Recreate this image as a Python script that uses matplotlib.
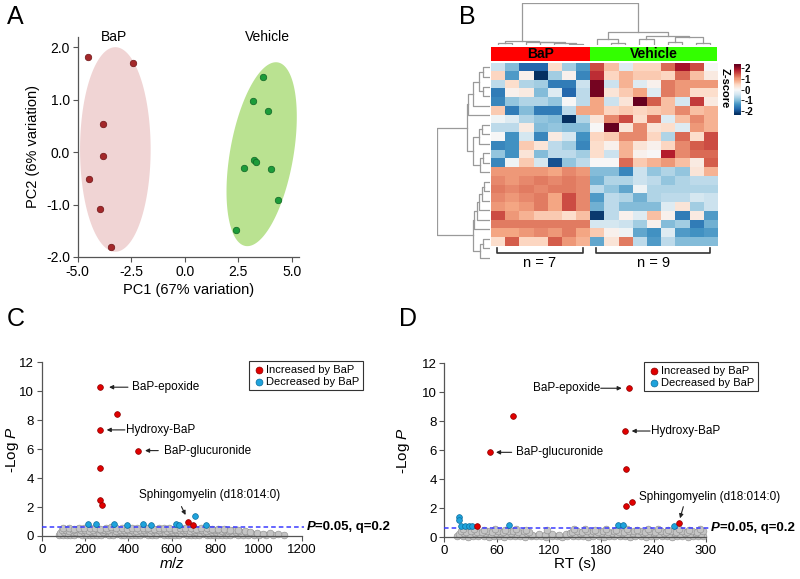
import numpy as np
import matplotlib
matplotlib.use('Agg')
import matplotlib.pyplot as plt
from matplotlib.patches import Polygon

plt.rcParams['font.family'] = ['Liberation Sans', 'DejaVu Sans']
plt.rcParams['axes.unicode_minus'] = False
plt.rcParams['mathtext.fontset'] = 'custom'
plt.rcParams['mathtext.rm'] = 'Liberation Sans'
plt.rcParams['mathtext.it'] = 'Liberation Sans:italic'
plt.rcParams['mathtext.bf'] = 'Liberation Sans:bold'

# %% data
# A: PCA scores
bap_pc1 = [-4.50, -2.40, -3.80, -3.80, -4.45, -3.94, -3.46]
bap_pc2 = [1.81, 1.70, 0.54, -0.07, -0.51, -1.08, -1.80]
veh_pc1 = [3.68, 3.21, 3.91, 3.24, 3.33, 2.77, 4.02, 4.35, 2.38]
veh_pc2 = [1.44, 0.97, 0.79, -0.16, -0.19, -0.30, -0.33, -0.92, -1.49]
# ellipse: centre, half-axis vector a, half-axis vector b (data units)
bap_ell = [(-3.24, 0.05), (0.0, 1.95), (1.65, 0.0)]
veh_ell = [(3.60, -0.04), (0.757, 1.75), (1.458, -0.105)]
group_label_x = [-3.29, 3.88]

# B: heatmap z-scores (21 features x 16 samples, 7 BaP then 9 vehicle)
groups = ['BaP', 'Vehicle']
group_n = [7, 9]
zscore = [
    [-0.5, -1.0, -1.8, -1.8, 0.4, -0.8, -1.3, 1.5, 0.7, -0.3, 0.5, 0.5, 1.3, 1.9, 1.5, 0.0],
    [0.5, -1.3, 0.1, -2.5, -0.8, 0.1, -1.5, 1.7, 0.5, 0.8, 0.6, 0.6, 0.5, 1.3, 0.7, 0.2],
    [-0.6, 0.4, -0.7, -0.8, -1.6, -1.6, -0.5, 2.2, -0.5, 0.8, -0.3, 0.1, 1.2, 1.0, 1.0, 1.0],
    [-1.6, 0.1, 0.2, -1.0, -0.3, -1.8, -0.6, 2.2, 0.3, 0.6, 0.9, -0.3, 1.2, 1.0, 0.4, 0.4],
    [-1.5, -0.9, -0.7, -0.7, -0.9, 0.0, -0.6, 0.9, -0.5, 0.3, 2.5, 1.4, 0.7, -0.4, 1.6, 0.2],
    [0.6, -1.6, -1.0, -1.6, -1.6, -0.6, 0.9, 0.9, 0.5, 0.6, 0.5, 0.6, 0.7, 1.1, 0.7, 0.8],
    [-0.1, -0.3, -0.7, -0.9, -1.0, -2.5, -0.7, 0.3, 1.1, 1.5, 0.4, 1.3, -0.3, 0.7, 1.1, 0.8],
    [-0.6, -0.6, 0.2, -1.0, -0.9, -1.0, -1.0, 0.0, 3.0, 0.3, 1.1, 0.3, 0.4, -0.3, 1.0, 0.8],
    [0.0, -1.4, -0.4, -1.5, 0.2, -0.4, -1.4, 0.5, 0.6, 1.1, 1.1, 0.5, -0.7, 1.3, 0.4, 1.5],
    [-1.5, -1.4, 0.6, 0.3, -0.6, -0.8, -1.5, 0.4, 0.1, 0.8, 0.3, 0.1, 0.5, 1.1, 1.4, 1.5],
    [-0.9, -1.4, 0.3, -1.0, -0.6, -0.6, -0.8, 0.4, -0.5, 0.8, 0.1, 0.0, 1.8, 1.1, 1.3, 1.3],
    [-1.5, -0.1, 0.6, -0.4, -2.0, -0.9, -0.6, 0.0, 0.0, 1.3, 0.6, 0.8, 1.0, 0.7, 0.2, 1.4],
    [1.0, 1.0, 1.0, 1.0, 0.9, 1.1, 1.0, -1.0, -1.0, -1.5, -0.5, -0.9, -0.7, -0.9, 0.3, 0.8],
    [1.1, 1.0, 1.1, 1.2, 1.1, 1.2, 1.1, -1.1, -0.7, -0.7, -0.5, -0.6, -0.9, -0.7, -0.6, -0.6],
    [1.2, 1.1, 1.2, 1.1, 1.2, 1.2, 1.1, -0.6, -0.9, -1.2, -0.1, -0.7, -0.7, -0.7, -0.7, -0.7],
    [1.1, 1.0, 1.1, 1.2, 0.9, 1.5, 1.1, -1.3, -0.6, -0.7, -1.1, -0.7, -0.6, -0.6, -0.4, -0.5],
    [1.0, 0.9, 1.0, 1.2, 0.9, 1.5, 1.1, -1.1, -0.6, -1.0, -1.0, -1.0, -0.3, 0.3, -0.8, -0.5],
    [1.5, 1.0, 0.8, 0.6, 0.6, 0.4, 0.7, -2.2, -0.6, 0.1, -0.3, 0.7, 0.1, -1.6, 0.2, -1.3],
    [1.2, 1.2, 1.2, 1.2, 1.2, 1.2, 1.2, -0.4, -0.4, -0.5, -0.8, 0.1, -1.0, -0.8, -1.6, -1.1],
    [0.9, 0.9, 1.0, 1.1, 1.0, 1.2, 0.9, 0.6, 0.1, -0.1, -1.2, -1.4, -0.3, -1.3, -1.4, -1.3],
    [0.4, 1.4, 0.5, 0.5, 1.4, 1.0, 0.8, -1.2, 0.3, 1.2, -0.6, -1.3, -0.6, -1.0, -1.0, -1.0],
]
# dendrograms as (left, right, height), leaves are indices
bap_cols = ((0, 1, 5), (2, (3, (4, (5, 6, 4), 6), 8), 10), 12)
veh_cols = ((7, (8, 9, 7), 17), ((10, 11, 17), ((12, 13, 10), (14, 15, 7), 23), 28), 38)
col_tree = (bap_cols, veh_cols, 125)
top_rows = (((((0, 1, 20), (2, 3, 20), 32), 4, 50), 5, 65),
            (((6, 7, 25), 8, 32), ((9, 10, 20), 11, 30), 50), 70)
low_rows = ((((((12, 13, 18), 14, 25), 15, 32), 16, 40), 17, 48), ((18, 19, 20), 20, 30), 52)
row_tree = (top_rows, low_rows, 160)

# C: m/z vs -log P
red_c = [(270, 10.28), (349, 8.41), (270, 7.33), (443, 5.90), (270, 4.68),
         (269, 2.49), (278, 2.14), (674, 0.99), (700, 0.76)]
blue_c = [(215, 0.81), (250, 0.81), (334, 0.80), (395, 0.78), (469, 0.80),
          (504, 0.78), (620, 0.82), (632, 0.78), (707, 1.38), (758, 0.78)]
gray_c = [
    (80, .06), (97, .10), (115, .04), (131, .09), (150, .07), (168, .11), (185, .05), (203, .08), (221, .10), (239, .04),
    (257, .09), (275, .06), (293, .11), (311, .05), (329, .08), (347, .12), (364, .06), (382, .09), (401, .04), (419, .10),
    (437, .07), (455, .05), (472, .11), (490, .08), (509, .06), (527, .09), (545, .12), (563, .05), (581, .07), (599, .10),
    (617, .04), (635, .08), (653, .11), (671, .06), (689, .09), (707, .05), (725, .07), (743, .12), (761, .04), (779, .08),
    (797, .10), (815, .06), (833, .09), (851, .05), (869, .07), (887, .11), (906, .04), (928, .08), (951, .06), (979, .10),
    (1004, .05), (1033, .09), (1068, .07), (1118, .05),
    (86, .24), (104, .29), (121, .21), (139, .27), (157, .31), (175, .23), (193, .28), (210, .20), (228, .26), (246, .30),
    (264, .22), (282, .27), (300, .32), (318, .24), (336, .21), (354, .29), (372, .25), (390, .31), (408, .22), (426, .27),
    (444, .23), (462, .30), (480, .26), (498, .21), (516, .28), (534, .24), (552, .31), (570, .22), (588, .27), (606, .25),
    (624, .30), (642, .21), (660, .28), (678, .24), (696, .26), (714, .31), (732, .22), (750, .27), (768, .23), (786, .29),
    (804, .25), (822, .21), (840, .28), (858, .24), (876, .20), (896, .26), (918, .22), (942, .25), (966, .19), (992, .23),
    (1021, .17), (1052, .21), (1090, .15),
    (92, .40), (110, .44), (128, .37), (146, .42), (164, .46), (182, .39), (200, .43), (218, .36), (236, .41), (254, .45),
    (272, .38), (290, .43), (308, .40), (326, .46), (344, .37), (362, .42), (380, .39), (398, .44), (416, .41), (434, .36),
    (452, .43), (470, .40), (488, .45), (506, .38), (524, .42), (542, .39), (560, .46), (578, .37), (596, .41), (614, .44),
    (632, .38), (650, .43), (668, .40), (686, .36), (704, .42), (722, .39), (740, .44), (758, .37), (776, .41), (794, .38),
    (812, .43), (830, .36), (848, .40), (866, .34), (886, .38), (910, .32), (936, .35), (962, .30),
    (100, .53), (124, .57), (149, .51), (173, .55), (197, .58), (222, .52), (246, .56), (271, .50), (295, .54), (320, .59),
    (344, .52), (369, .56), (393, .51), (418, .55), (442, .58), (467, .52), (491, .54), (516, .50), (540, .57), (565, .53),
    (589, .55), (614, .51), (638, .56), (663, .52), (687, .54), (712, .50), (736, .55), (761, .52), (786, .49), (812, .47),
    (840, .50), (870, .44), (905, .41),
]

# D: retention time vs -log P
red_d = [(212, 10.28), (78.4, 8.37), (207, 7.33), (52.4, 5.86), (208.3, 4.68),
         (208, 2.16), (214.8, 2.46), (268.5, 1.01), (37.1, 0.80)]
blue_d = [(16.9, 1.38), (16.9, 1.22), (18.8, 0.80), (23.7, 0.78), (28.7, 0.80),
          (32.1, 0.80), (74.2, 0.85), (198.7, 0.85), (204.5, 0.85), (263.7, 0.80)]
gray_d = [
    (15, .07), (21, .10), (27, .05), (33, .09), (39, .06), (45, .11), (51, .04), (57, .08), (63, .10), (69, .05),
    (75, .09), (81, .07), (87, .11), (93, .04), (99, .08), (105, .06), (111, .10), (117, .05), (123, .09), (129, .07),
    (135, .04), (141, .10), (147, .06), (153, .08), (159, .11), (165, .05), (171, .09), (177, .07), (183, .04), (189, .10),
    (195, .06), (201, .08), (207, .11), (213, .05), (219, .09), (225, .07), (231, .04), (237, .10), (243, .06), (249, .08),
    (255, .11), (261, .05), (267, .09), (273, .07), (279, .04), (285, .10), (291, .06), (297, .08),
    (17, .26), (23, .30), (29, .22), (35, .28), (41, .24), (47, .31), (53, .21), (59, .27), (65, .29), (71, .23),
    (77, .30), (83, .25), (89, .21), (95, .28), (101, .18), (108, .22), (116, .16), (124, .20), (132, .17), (139, .23),
    (144, .27), (150, .22), (156, .30), (162, .25), (168, .28), (174, .21), (180, .31), (186, .24), (192, .27), (198, .22),
    (204, .29), (210, .25), (216, .31), (222, .23), (228, .27), (234, .20), (240, .29), (246, .24), (252, .30), (258, .22),
    (264, .27), (270, .25), (276, .31), (282, .23), (288, .28), (294, .21),
    (19, .42), (25, .38), (31, .45), (37, .40), (43, .36), (49, .44), (55, .39), (61, .43), (67, .37), (73, .45),
    (79, .41), (85, .38), (91, .43), (97, .36), (118, .52), (146, .40), (152, .44), (158, .37), (164, .42), (170, .46),
    (176, .39), (182, .43), (188, .38), (194, .45), (200, .40), (206, .36), (212, .43), (218, .41), (224, .46), (230, .38),
    (236, .42), (242, .37), (248, .44), (254, .40), (260, .45), (266, .38), (272, .42), (278, .36), (284, .44), (290, .39),
    (296, .41),
    (22, .55), (34, .58), (46, .52), (58, .56), (70, .53), (82, .59), (94, .51), (149, .55), (161, .58), (173, .52),
    (185, .56), (197, .53), (209, .57), (221, .51), (233, .58), (245, .54), (257, .52), (269, .57), (281, .53), (293, .55),
]
cutoff = 0.64

# labels: (text, text x, text y, ha, arrow tail, arrow head)
notes_c = [('BaP-epoxide', 415, 10.28, 'left', (398, 10.28), (311, 10.28)),
           ('Hydroxy-BaP', 388, 7.33, 'left', (384, 7.33), (300, 7.33)),
           ('BaP-glucuronide', 564, 5.90, 'left', (538, 5.90), (477, 5.90)),
           ('Sphingomyelin (d18:014:0)', 773, 2.83, 'center', (645, 2.03), (664, 1.45))]
notes_d = [('BaP-epoxide', 179, 10.28, 'right', (179.3, 10.28), (203.4, 10.28)),
           ('Hydroxy-BaP', 236.5, 7.33, 'left', (235.8, 7.33), (214.8, 7.33)),
           ('BaP-glucuronide', 82.2, 5.86, 'left', (77.2, 5.86), (59.3, 5.86)),
           ('Sphingomyelin (d18:014:0)', 304, 2.76, 'center', (274, 2.11), (270.2, 1.31))]

# %% figure
W, H = 800, 579
fig = plt.figure(figsize=(W / 100, H / 100), dpi=100)


def px_axes(x0, y0, x1, y1):
    # box in pixels, origin top-left
    return fig.add_axes([x0 / W, 1 - y1 / H, (x1 - x0) / W, (y1 - y0) / H])


def style_axes(ax, size):
    for s in ['top', 'right']:
        ax.spines[s].set_visible(False)
    for s in ['left', 'bottom']:
        ax.spines[s].set_color('#555555')
        ax.spines[s].set_linewidth(0.9)
    ax.tick_params(direction='out', length=3.5, width=0.8, color='#555555', labelsize=size, pad=2)


# ---- A
ax = px_axes(77.7, 36.7, 299.3, 257)
t = np.linspace(0, 2 * np.pi, 200)
for ell, fc in [(bap_ell, '#f0d4d4'), (veh_ell, '#bae291')]:
    (cx, cy), a, b = ell
    pts = np.column_stack([cx + a[0] * np.cos(t) + b[0] * np.sin(t),
                           cy + a[1] * np.cos(t) + b[1] * np.sin(t)])
    ax.add_patch(Polygon(pts, closed=True, facecolor=fc, edgecolor='none', zorder=1))
ax.scatter(bap_pc1, bap_pc2, s=22, color='#a3282a', edgecolors='#6e1416', linewidths=0.5, zorder=3)
ax.scatter(veh_pc1, veh_pc2, s=22, color='#1c9c3a', edgecolors='#0f6424', linewidths=0.5, zorder=3)
for gx, g in zip(group_label_x, groups):
    ax.text(gx, 2.19, g, ha='center', va='center', fontsize=10)
ax.set_xlim(-5, 5.36)
ax.set_ylim(-2, 2.2)
ax.set_xticks([-5, -2.5, 0, 2.5, 5])
ax.set_xticklabels(['%.1f' % v for v in [-5, -2.5, 0, 2.5, 5]])
ax.set_yticks([-2, -1, 0, 1, 2])
ax.set_yticklabels(['%.1f' % v for v in [-2, -1, 0, 1, 2]])
style_axes(ax, 10)
ax.set_xlabel('PC1 (67% variation)', fontsize=10.5, labelpad=3)
ax.set_ylabel('PC2 (6% variation)', fontsize=10.5)
ax.yaxis.set_label_coords(-0.17, 0.5)

# ---- B
zdata = np.array(zscore)
nrow, ncol = zdata.shape
axh = px_axes(490.7, 62.7, 717.3, 262.7)
im = axh.imshow(zdata, cmap='RdBu_r', vmin=-2.3, vmax=2.3, aspect='auto',
                extent=(0, ncol, nrow, 0), interpolation='nearest')
axh.axis('off')
starts = np.cumsum([0] + group_n[:-1])
for st, n in zip(starts, group_n):
    x0, x1 = st + 0.45, st + n - 0.5
    axh.plot([x0, x0, x1, x1], [nrow + 0.24, nrow + 0.84, nrow + 0.84, nrow + 0.24],
             color='#333333', lw=1.2, clip_on=False)
    axh.text((x0 + x1) / 2, nrow + 2.0, 'n = %d' % n, ha='center', va='center', fontsize=10.5)

axg = px_axes(490.7, 47.3, 717.3, 60.7)
for st, n, g, c in zip(starts, group_n, groups, ['#ff0000', '#33ff00']):
    axg.barh(0, n, left=st, height=1, color=c)
    axg.text(st + n / 2, 0, g, ha='center', va='center', fontsize=10, fontweight='bold')
axg.set_xlim(0, ncol)
axg.set_ylim(-0.5, 0.5)
axg.axis('off')


def draw_tree(a, node, horizontal=False):
    if isinstance(node, int):
        return node + 0.5, 0.0
    left, right, h = node
    pl, hl = draw_tree(a, left, horizontal)
    pr, hr = draw_tree(a, right, horizontal)
    xs, ys = [pl, pl, pr, pr], [hl, h, h, hr]
    if horizontal:
        xs, ys = ys, xs
    a.plot(xs, ys, color='#9a9a9a', lw=0.9)
    return (pl + pr) / 2, h


axd = px_axes(490.7, 3.3, 717.3, 45)
draw_tree(axd, col_tree)
axd.set_xlim(0, ncol)
axd.set_ylim(0, 125)
axd.axis('off')

axr = px_axes(436.7, 62.7, 490, 262.7)
draw_tree(axr, row_tree, horizontal=True)
axr.set_xlim(160, 0)
axr.set_ylim(nrow, 0)
axr.axis('off')

axc = px_axes(734.3, 64.3, 740.7, 115)
cb = fig.colorbar(im, cax=axc, boundaries=np.linspace(-2.37, 2.37, 101), ticks=[-2, -1, 0, 1, 2])
cb.outline.set_visible(False)
cb.ax.tick_params(length=2, width=0.6, labelsize=7, pad=1)
for lab in cb.ax.get_yticklabels():
    lab.set_fontweight('bold')
fig.text(725 / W, 1 - 88 / H, 'Z-score', rotation=270, ha='center', va='center',
         fontsize=8, fontweight='bold')


# ---- C and D
def volcano(box, xmax, xticks, gray, red, blue, notes, xlabel, leg_x, ylab_x):
    ax = px_axes(*box)
    g = np.array(gray)
    r = np.array(red)
    b = np.array(blue)
    ax.scatter(g[:, 0], g[:, 1], s=24, color='#c4c4c4', edgecolors='#8c8c8c', linewidths=0.4,
               zorder=2, clip_on=False)
    ax.plot([0, xmax * 1.01], [cutoff, cutoff], color='#3a3aff', lw=1.1, ls=(0, (3, 2)),
            zorder=3, clip_on=False)
    hb = ax.scatter(b[:, 0], b[:, 1], s=17, color='#1fa3dc', edgecolors='#0b6e9e', linewidths=0.5, zorder=4)
    hr = ax.scatter(r[:, 0], r[:, 1], s=17, color='#e00000', edgecolors='#8e0000', linewidths=0.5, zorder=5)
    for txt, tx, ty, ha, tail, head in notes:
        ax.text(tx, ty, txt, ha=ha, va='center', fontsize=8.5)
        ax.annotate('', xy=head, xytext=tail,
                    arrowprops=dict(arrowstyle='-|>', color='#222222', lw=0.8,
                                    mutation_scale=6, shrinkA=0, shrinkB=0))
    ax.set_xlim(0, xmax)
    ax.set_ylim(0, 12)
    ax.set_xticks(xticks)
    ax.set_yticks(range(0, 13, 2))
    style_axes(ax, 9.5)
    ax.set_xlabel(xlabel, fontsize=11, labelpad=0)
    ax.set_ylabel('-Log $\\mathit{P}$', fontsize=11)
    ax.yaxis.set_label_coords(ylab_x, 0.5)
    leg = ax.legend([hr, hb], ['Increased by BaP', 'Decreased by BaP'], loc='upper right',
                    bbox_to_anchor=(leg_x, 1.005), borderaxespad=0, fontsize=8, fancybox=False,
                    framealpha=1, edgecolor='#333333', handletextpad=0.1, borderpad=0.3,
                    labelspacing=0.2, handlelength=1.2, markerscale=1.2)
    leg.get_frame().set_linewidth(0.8)
    tp = ax.text(xmax * 1.018, cutoff, 'P', fontsize=9.5, fontweight='bold', fontstyle='italic',
                 ha='left', va='center')
    ax.annotate('=0.05, q=0.2', xy=(1, 0), xycoords=tp, ha='left', va='bottom',
                fontsize=9.5, fontweight='bold')
    return ax


volcano((41.7, 362.3, 301.7, 536), 1200, range(0, 1201, 200), gray_c, red_c, blue_c, notes_c,
        '$m/z$', 1.236, -0.08)
volcano((444.3, 363.3, 706, 537.3), 300, range(0, 301, 60), gray_d, red_d, blue_d, notes_d,
        'RT (s)', 1.199, -0.123)

# panel letters
for letter, x, y in [('A', 15, 17), ('B', 467, 17), ('C', 16, 319), ('D', 408, 319)]:
    fig.text(x / W, 1 - y / H, letter, ha='center', va='center', fontsize=18)

fig.savefig('out.png', dpi=100)
